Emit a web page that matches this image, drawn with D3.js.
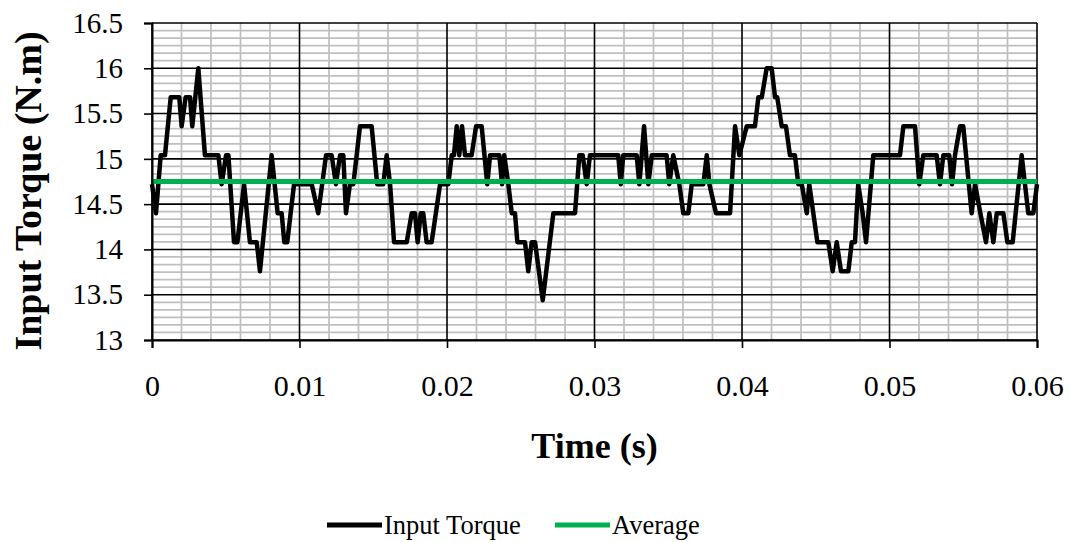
<!DOCTYPE html>
<html>
<head>
<meta charset="utf-8">
<script src="https://cdn.jsdelivr.net/npm/d3@7"></script>
<style>
  html, body { margin: 0; padding: 0; background: #fff; }
  svg { display: block; }
  svg text { font-family: "Liberation Serif", "Times New Roman", serif !important; fill: #000; }
</style>
</head>
<body>
<svg id="chart" width="1071" height="542"></svg>
<script>
// Sampled input torque (N.m) against time (s)
const timeS = [
  0.00000, 0.00027, 0.00059, 0.00088, 0.00127, 0.00185, 0.00201, 0.00228, 0.00258, 0.00273,
  0.00314, 0.00359, 0.00450, 0.00472, 0.00502, 0.00518, 0.00556, 0.00579, 0.00624, 0.00664,
  0.00710, 0.00732, 0.00811, 0.00852, 0.00879, 0.00897, 0.00917, 0.00963, 0.01083, 0.01127,
  0.01180, 0.01218, 0.01247, 0.01275, 0.01297, 0.01315, 0.01342, 0.01365, 0.01410, 0.01489,
  0.01527, 0.01568, 0.01591, 0.01614, 0.01641, 0.01727, 0.01761, 0.01783, 0.01801, 0.01822,
  0.01839, 0.01862, 0.01896, 0.01953, 0.02009, 0.02032, 0.02047, 0.02066, 0.02083, 0.02102,
  0.02122, 0.02167, 0.02197, 0.02235, 0.02273, 0.02292, 0.02355, 0.02373, 0.02388, 0.02416,
  0.02439, 0.02461, 0.02477, 0.02529, 0.02551, 0.02574, 0.02597, 0.02649, 0.02721, 0.02868,
  0.02897, 0.02920, 0.02947, 0.02969, 0.03161, 0.03178, 0.03195, 0.03286, 0.03304, 0.03336,
  0.03365, 0.03388, 0.03489, 0.03507, 0.03534, 0.03575, 0.03602, 0.03636, 0.03659, 0.03738,
  0.03761, 0.03779, 0.03824, 0.03919, 0.03953, 0.03982, 0.04032, 0.04088, 0.04111, 0.04134,
  0.04167, 0.04201, 0.04224, 0.04239, 0.04269, 0.04298, 0.04325, 0.04359, 0.04382, 0.04405,
  0.04439, 0.04456, 0.04511, 0.04585, 0.04615, 0.04642, 0.04671, 0.04721, 0.04744, 0.04766,
  0.04788, 0.04818, 0.04841, 0.04890, 0.05071, 0.05094, 0.05173, 0.05202, 0.05229, 0.05320,
  0.05342, 0.05365, 0.05405, 0.05424, 0.05444, 0.05478, 0.05500, 0.05557, 0.05580, 0.05616,
  0.05654, 0.05677, 0.05704, 0.05727, 0.05772, 0.05799, 0.05835, 0.05896, 0.05941, 0.05975,
  0.06000
];
const inputTorque = [
  14.72, 14.40, 15.04, 15.04, 15.68, 15.68, 15.36, 15.68, 15.68, 15.36,
  16.00, 15.04, 15.04, 14.72, 15.04, 15.04, 14.08, 14.08, 14.72, 14.08,
  14.08, 13.76, 15.04, 14.40, 14.40, 14.08, 14.08, 14.72, 14.72, 14.40,
  15.04, 15.04, 14.72, 15.04, 15.04, 14.40, 14.72, 14.72, 15.36, 15.36,
  14.72, 14.72, 15.04, 14.72, 14.08, 14.08, 14.40, 14.40, 14.08, 14.40,
  14.40, 14.08, 14.08, 14.72, 14.72, 15.04, 15.04, 15.36, 15.04, 15.36,
  15.04, 15.04, 15.36, 15.36, 14.72, 15.04, 15.04, 14.72, 15.04, 14.72,
  14.40, 14.40, 14.08, 14.08, 13.76, 14.08, 14.08, 13.44, 14.40, 14.40,
  15.04, 15.04, 14.72, 15.04, 15.04, 14.72, 15.04, 15.04, 14.72, 15.36,
  14.72, 15.04, 15.04, 14.72, 15.04, 14.72, 14.40, 14.40, 14.72, 14.72,
  15.04, 14.72, 14.40, 14.40, 15.36, 15.04, 15.36, 15.36, 15.68, 15.68,
  16.00, 16.00, 15.68, 15.68, 15.36, 15.36, 15.04, 15.04, 14.72, 14.72,
  14.40, 14.72, 14.08, 14.08, 13.76, 14.08, 13.76, 13.76, 14.08, 14.08,
  14.72, 14.40, 14.08, 15.04, 15.04, 15.36, 15.36, 14.72, 15.04, 15.04,
  14.72, 15.04, 15.04, 14.72, 15.04, 15.36, 15.36, 14.40, 14.72, 14.40,
  14.08, 14.40, 14.08, 14.40, 14.40, 14.08, 14.08, 15.04, 14.40, 14.40,
  14.72
];
const averageTorque = 14.75;

const xTicks = [0, 0.01, 0.02, 0.03, 0.04, 0.05, 0.06];
const yTicks = [13, 13.5, 14, 14.5, 15, 15.5, 16, 16.5];
const seriesNames = ["Input Torque", "Average"];
const seriesColors = ["#000000", "#00b050"];

const serif = '"Liberation Serif", "Times New Roman", serif';
const svg = d3.select("#chart");
const plot = { left: 152, right: 1037, top: 23, bottom: 340 };

const x = d3.scaleLinear().domain([0, 0.06]).range([plot.left, plot.right]);
const y = d3.scaleLinear().domain([13, 16.5]).range([plot.bottom, plot.top]);

const grid = svg.append("g");

// minor gridlines
const xMinor = d3.range(0, 31).map(i => i * 0.002).filter((v, i) => i % 5 !== 0);
const yMinor = d3.range(0, 43).map(i => 13 + i / 12).filter((v, i) => i % 6 !== 0);

grid.selectAll(".vmin").data(xMinor).join("line")
  .attr("x1", d => x(d)).attr("x2", d => x(d))
  .attr("y1", plot.top).attr("y2", plot.bottom)
  .attr("stroke", "#bfbfbf").attr("stroke-width", 1.75);
grid.selectAll(".hmin").data(yMinor).join("line")
  .attr("x1", plot.left).attr("x2", plot.right)
  .attr("y1", d => y(d)).attr("y2", d => y(d))
  .attr("stroke", "#bfbfbf").attr("stroke-width", 1.75);

// major gridlines
grid.selectAll(".vmaj").data(xTicks).join("line")
  .attr("x1", d => x(d)).attr("x2", d => x(d))
  .attr("y1", plot.top).attr("y2", plot.bottom)
  .attr("stroke", "#000").attr("stroke-width", 1.6);
grid.selectAll(".hmaj").data(yTicks).join("line")
  .attr("x1", plot.left).attr("x2", plot.right)
  .attr("y1", d => y(d)).attr("y2", d => y(d))
  .attr("stroke", "#000").attr("stroke-width", 1.6);

// series
const pts = timeS.map((t, i) => [t, inputTorque[i]]);
const line = d3.line().x(d => x(d[0])).y(d => y(d[1]));
svg.append("path").datum(pts)
  .attr("d", line)
  .attr("fill", "none").attr("stroke", seriesColors[0])
  .attr("stroke-width", 4.5).attr("stroke-linejoin", "round");

svg.append("path").datum([[0, averageTorque], [0.06, averageTorque]])
  .attr("d", line)
  .attr("fill", "none").attr("stroke", seriesColors[1])
  .attr("stroke-width", 5);

// axes
const xAxis = svg.append("g").attr("transform", `translate(0,${plot.bottom})`)
  .call(d3.axisBottom(x).tickValues(xTicks).tickSize(8).tickPadding(26)
    .tickFormat(d => String(+d.toFixed(2))));
xAxis.attr("font-family", null).attr("font-size", null);
xAxis.select(".domain").attr("stroke-width", 2);
xAxis.selectAll(".tick line").attr("stroke-width", 1.6);
xAxis.selectAll(".tick text").style("font-size", "30px").attr("dy", "0.72em")
  .style("font-family", serif);

const yAxis = svg.append("g").attr("transform", `translate(${plot.left},0)`)
  .call(d3.axisLeft(y).tickValues(yTicks).tickSize(8).tickPadding(21)
    .tickFormat(d => String(d)));
yAxis.attr("font-family", null).attr("font-size", null);
yAxis.select(".domain").attr("stroke-width", 2);
yAxis.selectAll(".tick line").attr("stroke-width", 1.6);
yAxis.selectAll(".tick text").style("font-size", "29px")
  .style("font-family", serif);

// axis titles
svg.append("text")
  .attr("x", (plot.left + plot.right) / 2).attr("y", 458)
  .attr("text-anchor", "middle").style("font-size", "36px").attr("font-weight", "bold")
  .text("Time (s)");
svg.append("text")
  .attr("transform", `translate(41,${191}) rotate(-90)`)
  .attr("text-anchor", "middle").style("font-size", "38px").attr("font-weight", "bold")
  .text("Input Torque (N.m)");

// legend
const legendItems = [
  { name: seriesNames[0], color: seriesColors[0], x0: 327 },
  { name: seriesNames[1], color: seriesColors[1], x0: 555 }
];
const lg = svg.append("g");
legendItems.forEach(item => {
  lg.append("line")
    .attr("x1", item.x0).attr("x2", item.x0 + 55)
    .attr("y1", 525).attr("y2", 525)
    .attr("stroke", item.color).attr("stroke-width", 5);
  lg.append("text")
    .attr("x", item.x0 + 57).attr("y", 525).attr("dy", "0.35em")
    .style("font-size", "26.5px")
    .text(item.name);
});
</script>
</body>
</html>
